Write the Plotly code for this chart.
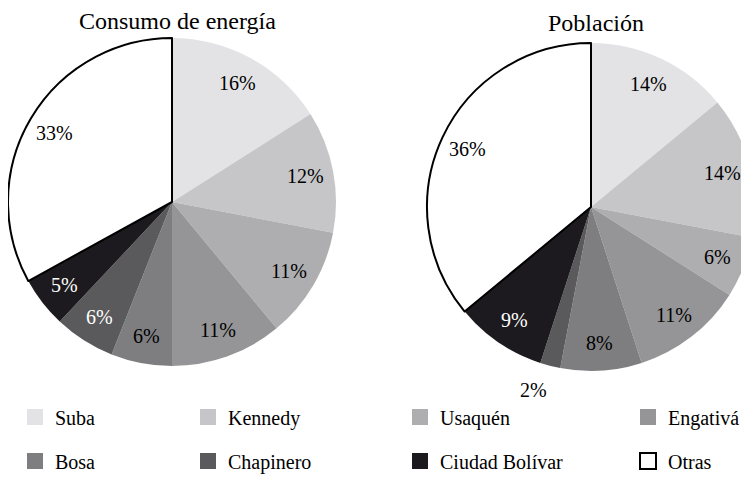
import math

import plotly.graph_objects as go

# districts, in slice order (clockwise from 12 o'clock)
districts = ["Suba", "Kennedy", "Usaquén", "Engativá", "Bosa", "Chapinero", "Ciudad Bolívar", "Otras"]
energia = [16, 12, 11, 11, 6, 6, 5, 33]
poblacion = [14, 14, 6, 11, 8, 2, 9, 36]

titles = ["Consumo de energía", "Población"]

COLORS = ["#e3e3e5", "#c6c6c8", "#aeaeb0", "#959597", "#7e7e80", "#5a5a5c", "#1c1a1e", "#ffffff"]
TEXT_COLORS = ["#000", "#000", "#000", "#000", "#000", "#fff", "#fff", "#000"]
LINE_W = [0, 0, 0, 0, 0, 0, 0, 2]

W, H = 749, 477
OFF = 8  # the page body keeps its default 8px margin
FONT = "Liberation Serif, 'Times New Roman', serif"


def _px(x, y):
    """Page pixel -> paper coords."""
    return (x - OFF) / W, 1 - (y - OFF) / H


# pie geometry in page pixels: centre x, centre y, radius
PIES = [(172, 202, 164), (591, 207, 164)]

fig = go.Figure()
annotations = []

for vals, (cx, cy, r), title, ty in zip((energia, poblacion), PIES, titles, (21, 23)):
    x0, y1 = _px(cx - r, cy - r)
    x1, y0 = _px(cx + r, cy + r)
    fig.add_trace(
        go.Pie(
            values=vals,
            labels=districts,
            sort=False,
            direction="clockwise",
            rotation=0,
            marker={"colors": COLORS, "line": {"color": "#000", "width": LINE_W}},
            textinfo="none",
            domain={"x": [x0, x1], "y": [y0, y1]},
            showlegend=False,
            hoverinfo="label+value",
        )
    )

    # percentage labels along each slice's mid-angle
    total = sum(vals)
    cum = 0
    for v, tc in zip(vals, TEXT_COLORS):
        ang = 2 * math.pi * (cum + v / 2) / total
        cum += v
        small = v / total < 0.03
        dist = r * (1.15 if small else 0.83)
        lx, ly = _px(cx + dist * math.sin(ang), cy - dist * math.cos(ang))
        annotations.append(dict(
            text=f"{v}%", x=lx, y=ly, xref="paper", yref="paper",
            xanchor="center", yanchor="middle", showarrow=False,
            xshift=-11 if small else 0,
            font={"family": FONT, "size": 20, "color": "#000" if small else tc},
        ))

    tx, tyy = _px(cx + 5, ty)
    annotations.append(dict(
        text=title, x=tx, y=tyy, xref="paper", yref="paper", xanchor="center", yanchor="middle",
        showarrow=False, borderpad=0, font={"family": FONT, "size": 24, "color": "#000"},
    ))

# legend: one small legend per entry so the columns line up like the original
leg_text_x = [55, 228, 440, 668]
leg_y = [417, 461]
layout_legends = {}
for i, name in enumerate(districts):
    col, row = i % 4, i // 4
    key = "legend" if i == 0 else f"legend{i + 1}"
    fig.add_trace(
        go.Scatter(
            x=[None], y=[None], mode="markers", name=name, legend=key,
            marker={
                "symbol": "square", "size": 16, "color": COLORS[i],
                "line": {"color": "#000" if name == "Otras" else COLORS[i], "width": 2 if name == "Otras" else 0},
            },
            hoverinfo="skip",
        )
    )
    lx, ly = _px(leg_text_x[col] - 40, leg_y[row])
    layout_legends[key] = {
        "x": lx, "y": ly, "xanchor": "left", "yanchor": "middle",
        "bgcolor": "rgba(0,0,0,0)", "borderwidth": 0,
        "font": {"family": FONT, "size": 20, "color": "#000"},
    }

fig.update_layout(
    width=W, height=H,
    margin={"l": 0, "r": 0, "t": 0, "b": 0},
    paper_bgcolor="#fff", plot_bgcolor="#fff",
    font={"family": FONT, "color": "#000"},
    xaxis={"visible": False}, yaxis={"visible": False},
    annotations=annotations,
    **layout_legends,
)

fig.write_html("out.html")
